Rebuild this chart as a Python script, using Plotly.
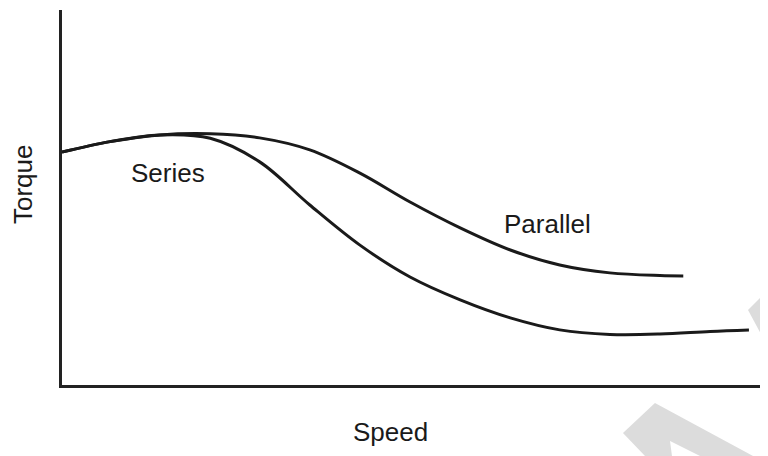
import plotly.graph_objects as go

# Data (arbitrary units, 0-100 scale on both axes)
parallel_speed = [0, 6.8, 13.9, 21.0, 28.0, 35.1, 42.2, 49.3, 56.4, 63.5, 70.5, 77.6, 84.7, 88.0]
parallel_torque = [62.1, 64.9, 66.7, 67.0, 65.9, 62.7, 56.5, 48.8, 41.9, 36.0, 32.0, 29.9, 29.2, 29.1]

series_speed = [0, 6.8, 13.9, 21.0, 28.0, 35.1, 42.2, 49.3, 56.4, 63.5, 70.5, 77.6, 84.7, 91.8, 97.3]
series_torque = [62.1, 64.9, 66.7, 65.8, 59.5, 48.0, 37.3, 28.8, 22.7, 17.9, 14.7, 13.5, 13.6, 14.3, 14.7]

curve_labels = ["Series", "Parallel"]
label_x = [15.0, 68.8]
label_y = [56.5, 42.9]

x_title = "Speed"
y_title = "Torque"

FONT = "Liberation Sans, Arial, sans-serif"
INK = "#1a1a1a"

fig = go.Figure()
fig.add_trace(go.Scatter(x=parallel_speed, y=parallel_torque, mode="lines",
                         line=dict(color=INK, width=3, shape="spline", smoothing=1.0),
                         name="Parallel", hoverinfo="skip"))
fig.add_trace(go.Scatter(x=series_speed, y=series_torque, mode="lines",
                         line=dict(color=INK, width=3, shape="spline", smoothing=1.0),
                         name="Series", hoverinfo="skip"))

for t, x, y in zip(curve_labels, label_x, label_y):
    fig.add_annotation(x=x, y=y, xref="x", yref="y", text=t, showarrow=False,
                       font=dict(family=FONT, size=26, color=INK),
                       xanchor="center", yanchor="middle")

fig.add_annotation(x=0.4646, y=-0.124, xref="paper", yref="paper", text=x_title,
                   showarrow=False, font=dict(family=FONT, size=26, color=INK),
                   xanchor="center", yanchor="middle")
fig.add_annotation(x=-0.0552, y=0.536, xref="paper", yref="paper", text=y_title,
                   showarrow=False, textangle=-90, font=dict(family=FONT, size=26, color=INK),
                   xanchor="center", yanchor="middle")

# light grey watermark fragments (decorative)
wm = "#dcdcdc"
fig.add_shape(type="path", xref="paper", yref="paper", layer="below",
              path="M 0.8258 -0.1893 L 0.7946 -0.128 L 0.8399 -0.048 L 0.9788 -0.1893 "
                   "L 0.9037 -0.1893 L 0.8612 -0.1493 L 0.8640 -0.1893 Z",
              fillcolor=wm, line=dict(width=0))
fig.add_shape(type="path", xref="paper", yref="paper", layer="below",
              path="M 0.9717 0.2 L 1.0 0.2533 L 1.0 0.1013 Z",
              fillcolor=wm, line=dict(width=0))

fig.update_xaxes(range=[0, 100], showline=True, linecolor="#222", linewidth=2.5,
                 showgrid=False, zeroline=False, showticklabels=False, ticks="")
fig.update_yaxes(range=[0, 100], showline=True, linecolor="#222", linewidth=2.5,
                 showgrid=False, zeroline=False, showticklabels=False, ticks="")

# page has an 8px body margin, so the figure is 8px smaller than the window
fig.update_layout(width=760, height=448, autosize=False,
                  margin=dict(l=54, r=0, t=2, b=71),
                  paper_bgcolor="white", plot_bgcolor="white",
                  showlegend=False)

fig.write_html("out.html")
